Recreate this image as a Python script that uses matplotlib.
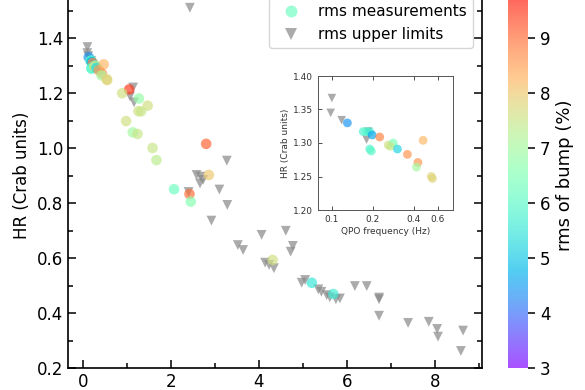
import matplotlib
matplotlib.use("Agg")
import matplotlib.pyplot as plt
import numpy as np
from matplotlib.lines import Line2D

# QPO frequency (Hz), hardness ratio (Crab units), rms of bump (%)
meas_freq = [0.130, 0.170, 0.180, 0.190, 0.198, 0.225, 0.190, 0.195, 0.26, 0.283,
             0.27, 0.304, 0.36, 0.47, 0.43, 0.42, 0.54, 0.55,
             1.05, 0.89, 1.27, 1.47, 1.26, 1.32, 0.98, 1.13, 1.24, 1.58, 1.67,
             2.80, 2.86, 2.07, 2.42, 2.45, 4.31, 5.20, 5.69]
meas_hr = [1.330, 1.317, 1.317, 1.317, 1.312, 1.309, 1.291, 1.288, 1.297, 1.300,
           1.295, 1.291, 1.283, 1.304, 1.271, 1.264, 1.250, 1.247,
           1.213, 1.199, 1.180, 1.154, 1.134, 1.133, 1.098, 1.057, 1.051, 1.000, 0.956,
           1.015, 0.902, 0.850, 0.833, 0.805, 0.593, 0.510, 0.469]
meas_rms = [4.4, 5.8, 5.9, 5.7, 4.6, 8.8, 5.8, 6.0, 7.6, 6.4,
            7.5, 5.2, 8.6, 8.2, 8.6, 7.0, 7.8, 7.8,
            9.5, 7.6, 6.8, 7.6, 7.6, 7.5, 7.6, 7.0, 7.5, 7.5, 7.3,
            9.1, 8.0, 6.2, 9.0, 6.6, 7.6, 5.5, 5.6]

ul_freq = [0.100, 0.098, 0.118, 0.180, 0.185, 1.14, 1.07, 1.16, 2.43,
           3.27, 2.58, 2.67, 2.73, 2.66, 3.10, 3.28, 2.92, 2.40,
           3.52, 3.64, 4.06, 4.61, 4.77, 4.72, 4.14, 4.23, 4.34,
           4.97, 5.05, 5.35, 5.42, 5.54, 5.61, 5.75, 5.84, 6.18,
           6.45, 6.73, 6.73, 6.73, 7.39, 7.86, 8.05, 8.07, 8.64, 8.59]
ul_hr = [1.367, 1.345, 1.334, 1.305, 1.317, 1.220, 1.187, 1.166, 1.510,
         0.954, 0.902, 0.896, 0.884, 0.871, 0.849, 0.793, 0.736, 0.840,
         0.647, 0.629, 0.684, 0.699, 0.644, 0.623, 0.583, 0.575, 0.563,
         0.510, 0.520, 0.486, 0.477, 0.465, 0.457, 0.450, 0.453, 0.498,
         0.498, 0.450, 0.456, 0.390, 0.364, 0.368, 0.342, 0.314, 0.336, 0.262]

x_ticks = [0, 2, 4, 6, 8]
y_ticks = [0.2, 0.4, 0.6, 0.8, 1.0, 1.2, 1.4]
cb_ticks = [3, 4, 5, 6, 7, 8, 9]
inset_xticks = [0.1, 0.2, 0.4, 0.6]
inset_yticks = [1.20, 1.25, 1.30, 1.35, 1.40]

W, H = 585, 390
fig = plt.figure(figsize=(W / 100, H / 100), dpi=100)

ax = fig.add_axes([68 / W, 22 / H, (482 - 68) / W, 385 / H])
sc = ax.scatter(meas_freq, meas_hr, c=meas_rms, cmap='rainbow', vmin=3, vmax=10,
                s=58, alpha=0.68, edgecolors='none', zorder=3)
ax.scatter(ul_freq, ul_hr, marker='v', color='#888888', s=50, alpha=0.7,
           edgecolors='none', zorder=2)
ax.set_xlim(-0.341, 9.07)
ax.set_ylim(0.2, 1.6)
ax.set_xticks(x_ticks)
ax.set_xticks(np.arange(0, 10, 1), minor=True)
ax.set_yticks(y_ticks)
ax.set_yticks(np.arange(0.3, 1.6, 0.2), minor=True)
ax.tick_params(which='both', direction='in', top=True, right=True, labelsize=12, width=1.1)
ax.tick_params(which='major', length=6)
ax.tick_params(which='minor', length=3.5)
for sp in ax.spines.values():
    sp.set_linewidth(1.2)
ax.set_ylabel('HR (Crab units)', fontsize=12)

handles = [Line2D([], [], marker='o', ls='none', color=plt.cm.rainbow(0.46), alpha=0.68,
                  markeredgewidth=0, markersize=8.5),
           Line2D([], [], marker='v', ls='none', color='#888888', alpha=0.7,
                  markeredgewidth=0, markersize=8.5)]
ax.legend(handles, ['rms measurements', 'rms upper limits'], loc='lower right',
          bbox_to_anchor=(0.978, 0.831), borderaxespad=0, fontsize=11, frameon=True)

cax = fig.add_axes([508 / W, 22 / H, 20 / W, 385 / H])
cb = fig.colorbar(sc, cax=cax)
cb.set_ticks(cb_ticks)
cb.outline.set_visible(False)
cb.ax.tick_params(labelsize=12, length=5, width=1.1)
cb.set_label('rms of bump (%)', fontsize=13)

ins = fig.add_axes([318 / W, (H - 210) / H, 135 / W, 134 / H])
ins.scatter(meas_freq, meas_hr, c=meas_rms, cmap='rainbow', vmin=3, vmax=10,
            s=40, alpha=0.68, edgecolors='none', zorder=3)
ins.scatter(ul_freq, ul_hr, marker='v', color='#888888', s=38, alpha=0.7,
            edgecolors='none', zorder=2)
ins.set_xscale('log')
ins.set_xlim(0.079, 0.78)
ins.set_ylim(1.2, 1.4)
ins.set_xticks(inset_xticks)
ins.set_xticklabels([str(t) for t in inset_xticks])
ins.xaxis.set_minor_locator(matplotlib.ticker.NullLocator())
ins.set_yticks(inset_yticks)
ins.set_yticklabels(['%.2f' % t for t in inset_yticks])
ins.tick_params(direction='in', top=True, labelsize=6.5, length=3, width=0.6,
                colors='#333333')
for sp in ins.spines.values():
    sp.set_linewidth(0.7)
    sp.set_color('#555555')
ins.set_xlabel('QPO frequency (Hz)', fontsize=6.5, color='#333333', labelpad=2)
ins.set_ylabel('HR (Crab units)', fontsize=6.5, color='#333333', labelpad=2)

fig.savefig('out.png', dpi=100)
